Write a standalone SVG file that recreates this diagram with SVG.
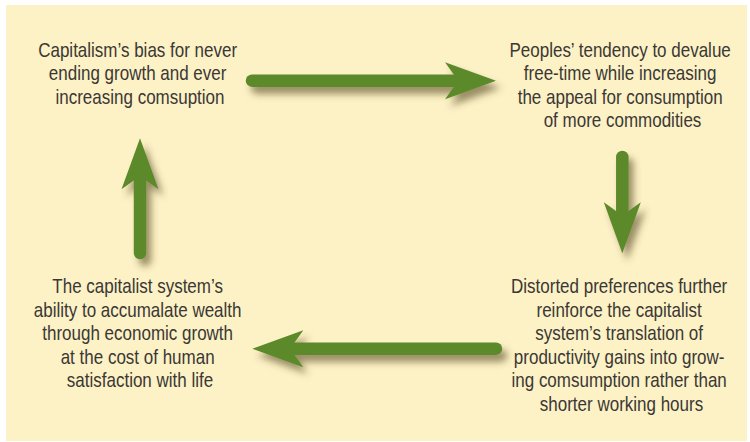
<svg xmlns="http://www.w3.org/2000/svg" width="750" height="442" viewBox="0 0 750 442">
<defs>
<style>
.lbl{font-family:"Liberation Sans",Arial,sans-serif;font-size:20px;fill:#3a3834;text-anchor:middle}
.shaft{stroke:#5c8a29;stroke-width:12.5;stroke-linecap:round;fill:none}
.head{fill:#5c8a29}
</style>
<filter id="shadow" x="-30%" y="-60%" width="160%" height="220%">
<feGaussianBlur in="SourceAlpha" stdDeviation="3.5" result="b"/>
<feOffset in="b" dx="5" dy="7" result="o"/>
<feFlood flood-color="#4a3f18" flood-opacity="0.55"/>
<feComposite in2="o" operator="in" result="s"/>
<feMerge><feMergeNode in="s"/><feMergeNode in="SourceGraphic"/></feMerge>
</filter>
<path id="ah" d="M0,0 L-51,-18.5 Q-45,-10 -42,-6 L-42,6 Q-45,10 -51,18.5 Z"/>
</defs>
<rect x="0" y="0" width="750" height="442" fill="#ffffff"/>
<rect x="6" y="5" width="741" height="436" fill="#fdf1c6"/>
<g id="connectors">
<g id="arrow-top" filter="url(#shadow)">
<line class="shaft" x1="252" y1="80.7" x2="456" y2="80.7"/>
<use href="#ah" class="head" transform="translate(496,80.7)"/>
</g>
<g id="arrow-right" filter="url(#shadow)">
<line class="shaft" x1="622.3" y1="157" x2="622.3" y2="213"/>
<use href="#ah" class="head" transform="translate(622.3,253.3) rotate(90)"/>
</g>
<g id="arrow-bottom" filter="url(#shadow)">
<line class="shaft" x1="496" y1="348.7" x2="292" y2="348.7"/>
<use href="#ah" class="head" transform="translate(252.3,348.7) rotate(180)"/>
</g>
<g id="arrow-left" filter="url(#shadow)">
<line class="shaft" x1="140" y1="253" x2="140" y2="178"/>
<use href="#ah" class="head" transform="translate(140,138.3) rotate(-90)"/>
</g>
</g>
<g id="node-capitalism-bias">
<text class="lbl" transform="translate(140,0) scale(0.85,1)">
<tspan x="0" y="57">Capitalism’s bias for never</tspan>
<tspan x="0" y="80.5">ending growth and ever</tspan>
<tspan x="0" y="104">increasing comsuption</tspan>
</text>
</g>
<g id="node-peoples-tendency">
<text class="lbl" transform="translate(622.5,0) scale(0.85,1)">
<tspan x="0" y="57">Peoples’ tendency to devalue</tspan>
<tspan x="0" y="80.5">free-time while increasing</tspan>
<tspan x="0" y="104">the appeal for consumption</tspan>
<tspan x="0" y="127.5">of more commodities</tspan>
</text>
</g>
<g id="node-distorted-preferences">
<text class="lbl" transform="translate(621.5,0) scale(0.85,1)">
<tspan x="0" y="293.5">Distorted preferences further</tspan>
<tspan x="0" y="317">reinforce the capitalist</tspan>
<tspan x="0" y="340.5">system’s translation of</tspan>
<tspan x="0" y="364">productivity gains into grow-</tspan>
<tspan x="0" y="387.5">ing comsumption rather than</tspan>
<tspan x="0" y="411">shorter working hours</tspan>
</text>
</g>
<g id="node-accumulate-wealth">
<text class="lbl" transform="translate(140,0) scale(0.85,1)">
<tspan x="0" y="293.5">The capitalist system’s</tspan>
<tspan x="0" y="317">ability to accumalate wealth</tspan>
<tspan x="0" y="340.5">through economic growth</tspan>
<tspan x="0" y="364">at the cost of human</tspan>
<tspan x="0" y="387.5">satisfaction with life</tspan>
</text>
</g>
</svg>
